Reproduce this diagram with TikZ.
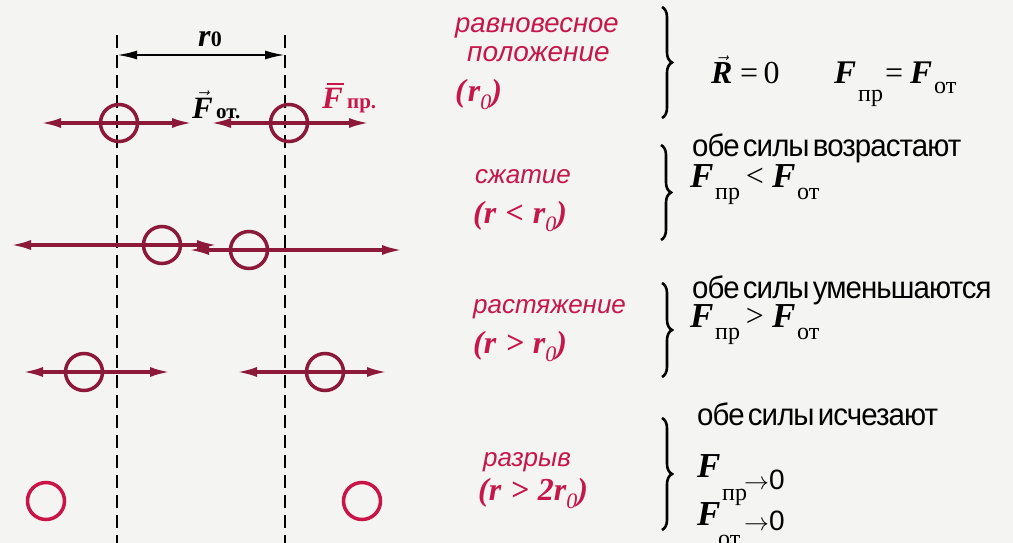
\documentclass[tikz,border=0pt]{standalone}
\usepackage{fontspec}
\setmainfont{Liberation Serif}
\newfontfamily\labfont{Liberation Sans}
\newfontfamily\txtfont[FakeStretch=0.95,LetterSpace=-3,WordSpace=0.45]{Liberation Sans}
\newfontfamily\arrfont{Liberation Sans}
\usetikzlibrary{arrows.meta,decorations.pathreplacing}
\definecolor{bgc}{RGB}{244,244,242}
\definecolor{maroon}{RGB}{140,24,58}
\definecolor{crim}{RGB}{198,22,74}
\definecolor{ringred}{RGB}{200,20,70}
\newcommand\rz{\textbf{\textit{r}}\raisebox{-8pt}{\fontsize{22}{22}\selectfont\textit{0}}}
\newcommand\gap{\hspace*{9pt}}
\tikzset{
  dashrest/.style={draw=black, line width=2.7pt, dash pattern=on 13pt off 7pt},
  dimln/.style={draw=black, line width=2.2pt, {Latex[length=20pt,width=9pt]}-{Latex[length=20pt,width=9pt]}},
  force/.style={draw=maroon, line width=3.5pt, -{Latex[length=21pt,width=10pt]}},
  atom/.style={circle, draw=maroon, line width=3.5pt, minimum size=37pt, inner sep=0pt},
  freeatom/.style={atom, draw=ringred},
  lab/.style={text=crim, font=\labfont\itshape\fontsize{26}{30}\selectfont, anchor=base west, inner sep=0pt},
  rlab/.style={text=crim, font=\fontsize{32}{32}\selectfont, anchor=base west, inner sep=0pt},
  desc/.style={text=black, font=\txtfont\fontsize{31}{32}\selectfont, anchor=base west, inner sep=0pt},
  fsym/.style={text=black, font=\fontsize{35}{35}\selectfont\bfseries\itshape, anchor=base west, inner sep=0pt},
  fsub/.style={text=black, font=\fontsize{24}{24}\selectfont, anchor=base west, inner sep=0pt},
  rel/.style={text=black, font=\fontsize{32}{32}\selectfont, anchor=base, inner sep=0pt},
  tozero/.style={text=black, font=\arrfont\fontsize{28}{28}\selectfont, anchor=base west, inner sep=0pt},
  brc/.style={draw=black, line width=2.6pt, decorate, decoration={brace, amplitude=10pt}},
}
\begin{document}
\begin{tikzpicture}[x=1pt,y=-1pt]
\fill[bgc] (0,0) rectangle (1013,543);
\useasboundingbox (0,0) rectangle (1013,543);

% dashed guide lines
\coordinate (vLt) at (117,35); \coordinate (vLb) at (117,543);
\coordinate (vRt) at (285,35); \coordinate (vRb) at (285,543);
\draw[dashrest] (vLt) -- (vLb);
\draw[dashrest] (vRt) -- (vRb);

% r0 dimension
\coordinate (d1) at (117,55); \coordinate (d2) at (285,55);
\draw[dimln] (d1) -- (d2);
\node[anchor=base west, inner sep=0pt, font=\fontsize{32}{32}\selectfont] (r0) at (198,47)
  {\textbf{\textit{r}}\fontsize{22}{22}\selectfont\textbf{0}};

% row 1: equilibrium
\node[atom] (a1L) at (119,123) {};
\node[atom] (a1R) at (289,123) {};
\coordinate (t1La) at (40,123);  \coordinate (t1Lb) at (193,123);
\coordinate (t1Ra) at (210,123); \coordinate (t1Rb) at (370,123);
\draw[force] (a1L.center) -- (t1La);
\draw[force] (a1L.center) -- (t1Lb);
\draw[force] (a1R.center) -- (t1Ra);
\draw[force] (a1R.center) -- (t1Rb);
\node[fsym, font=\fontsize{31}{31}\selectfont\bfseries\itshape] (Fot) at (192,118) {$\vec{\hbox{F}}$};
\node[fsub, font=\fontsize{21}{21}\selectfont\bfseries] (Fots) at (216,118) {от.};
\node[fsym, text=crim, font=\fontsize{31}{31}\selectfont\bfseries\itshape] (Fpr) at (322,108) {F};
\draw[crim, line width=2pt] ([xshift=5pt,yshift=4pt]Fpr.north west) -- ([xshift=1pt,yshift=4pt]Fpr.north east);
\node[fsub, text=crim, font=\fontsize{21}{21}\selectfont\bfseries] (Fprs) at (347,108) {пр.};

% row 2: compression
\node[atom] (a2L) at (162,245) {};
\node[atom] (a2R) at (249,250) {};
\coordinate (t2La) at (10,245);  \coordinate (t2Lb) at (218,245);
\coordinate (t2Ra) at (188,250); \coordinate (t2Rb) at (403,250);
\draw[force] (a2L.center) -- (t2La);
\draw[force] (a2L.center) -- (t2Lb);
\draw[force] (a2R.center) -- (t2Ra);
\draw[force] (a2R.center) -- (t2Rb);

% row 3: tension
\node[atom] (a3L) at (84,372) {};
\node[atom] (a3R) at (325,372) {};
\coordinate (t3La) at (22,372);  \coordinate (t3Lb) at (171,372);
\coordinate (t3Ra) at (236,372); \coordinate (t3Rb) at (388,372);
\draw[force] (a3L.center) -- (t3La);
\draw[force] (a3L.center) -- (t3Lb);
\draw[force] (a3R.center) -- (t3Ra);
\draw[force] (a3R.center) -- (t3Rb);

% row 4: rupture
\node[freeatom] (a4L) at (46,501) {};
\node[freeatom] (a4R) at (362,501) {};

% labels
\node[lab, font=\labfont\itshape\fontsize{27.5}{30}\selectfont] (L1a) at (455,33) {равновесное};
\node[lab, font=\labfont\itshape\fontsize{28}{30}\selectfont] (L1b) at (467,62) {положение};
\node[rlab] (L1c) at (455,102) {\textbf{\textit{(}}\rz\textbf{\textit{)}}};

\node[lab] (L2a) at (475,183) {сжатие};
\node[rlab] (L2b) at (473,223) {\textbf{\textit{(r}}\gap\textbf{\textit{<}}\gap\rz\textbf{\textit{)}}};

\node[lab] (L3a) at (473,313) {растяжение};
\node[rlab] (L3b) at (473,353) {\textbf{\textit{(r}}\gap\textbf{\textit{>}}\gap\rz\textbf{\textit{)}}};

\node[lab] (L4a) at (483,466) {разрыв};
\node[rlab] (L4b) at (478,500) {\textbf{\textit{(r}}\gap\textbf{\textit{>}}\gap\textbf{\textit{2}}\rz\textbf{\textit{)}}};

% braces
\coordinate (b1t) at (662,7);   \coordinate (b1b) at (662,118);
\coordinate (b2t) at (661,145); \coordinate (b2b) at (661,240);
\coordinate (b3t) at (662,283); \coordinate (b3b) at (662,377);
\coordinate (b4t) at (662,418); \coordinate (b4b) at (662,530);
\draw[brc] (b1t) -- (b1b);
\draw[brc] (b2t) -- (b2b);
\draw[brc] (b3t) -- (b3b);
\draw[brc] (b4t) -- (b4b);

% row 1 result
\node[fsym, font=\fontsize{32}{32}\selectfont\bfseries\itshape] (R1) at (711,84) {$\vec{\hbox{R}}$};
\node[rel, anchor=base west] (R1eq) at (740,84) {=\,0};
\node[fsym, font=\fontsize{33}{33}\selectfont\bfseries\itshape] (F1a) at (834,84) {F};
\node[fsub] (F1as) at (858,102) {пр};
\node[rel, anchor=base west] (F1eq) at (885,84) {=};
\node[fsym, font=\fontsize{33}{33}\selectfont\bfseries\itshape] (F1b) at (910,84) {F};
\node[fsub] (F1bs) at (934,94) {от};

% row 2 result
\node[desc] (D2) at (692,157) {обе силы возрастают};
\node[fsym] (F2a) at (690,187) {F};
\node[fsub] (F2as) at (715,199) {пр};
\node[rel] (F2r) at (755,186) {<};
\node[fsym] (F2b) at (772,187) {F};
\node[fsub] (F2bs) at (797,199) {от};

% row 3 result
\node[desc] (D3) at (692,298) {обе силы уменьшаются};
\node[fsym] (F3a) at (690,327) {F};
\node[fsub] (F3as) at (715,339) {пр};
\node[rel] (F3r) at (755,326) {>};
\node[fsym] (F3b) at (772,327) {F};
\node[fsub] (F3bs) at (797,339) {от};

% row 4 result
\node[desc] (D4) at (697,425) {обе силы исчезают};
\node[fsym] (F4a) at (697,477) {F};
\node[fsub] (F4as) at (722,500) {пр};
\node[tozero] (F4az) at (744,489) {$\rightarrow$0};
\node[fsym] (F4b) at (697,525) {F};
\node[fsub] (F4bs) at (718,546) {от};
\node[tozero] (F4bz) at (744,530) {$\rightarrow$0};
\end{tikzpicture}
\end{document}
